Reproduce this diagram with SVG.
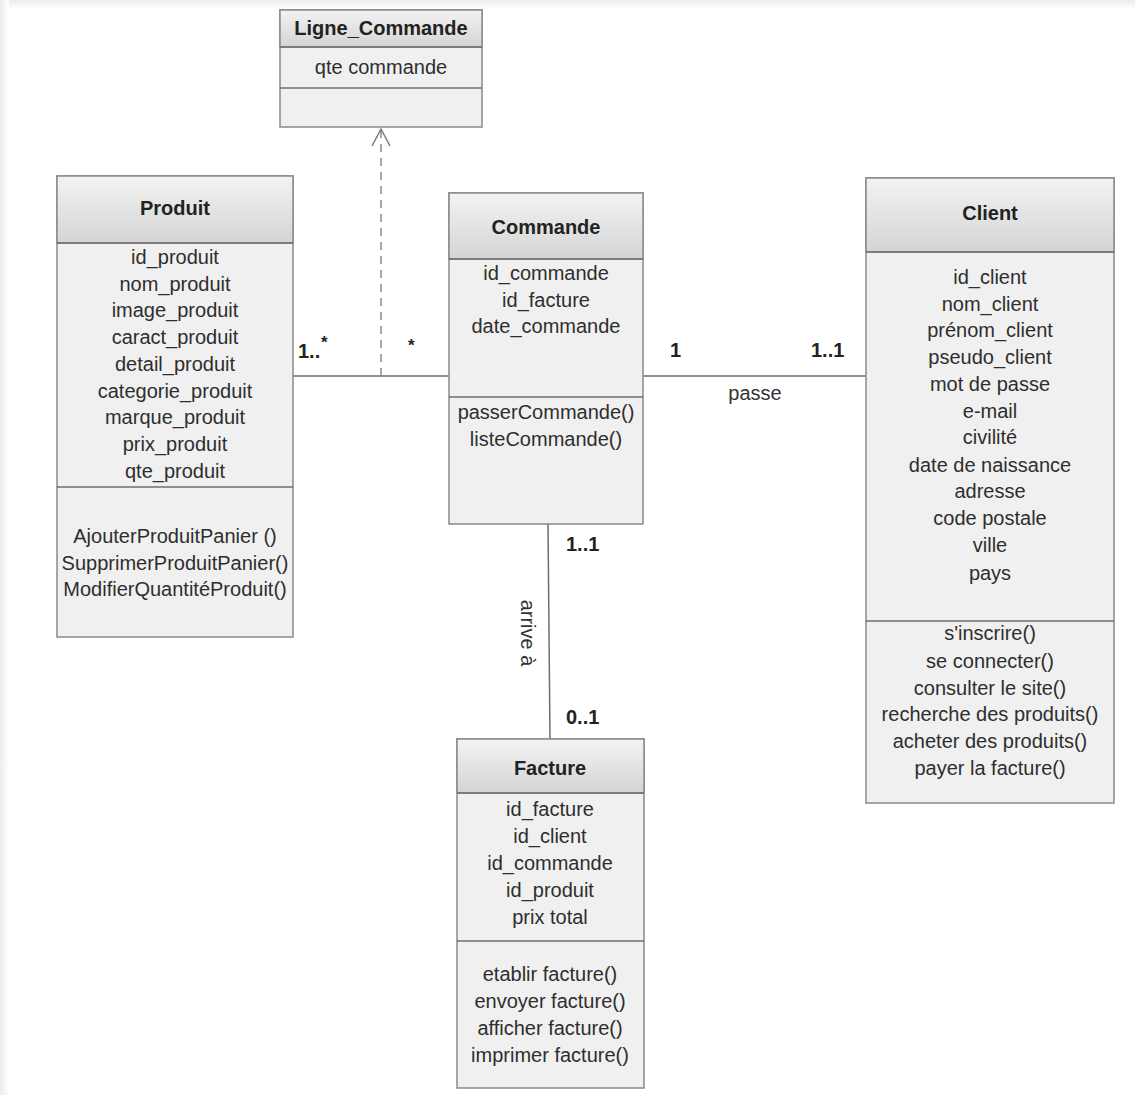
<svg xmlns="http://www.w3.org/2000/svg" width="1135" height="1095" viewBox="0 0 1135 1095">
  <style>
    .box { fill: #f0f0f0; stroke: #8a8a8a; stroke-width: 1.5; }
    .head { fill: url(#headGrad); stroke: #8a8a8a; stroke-width: 1.5; }
    .sep { stroke: #6f6f6f; stroke-width: 1.6; }
    .title { font-family: "Liberation Sans", Arial, sans-serif; font-size: 20px; font-weight: bold; fill: #222222; text-anchor: middle; }
    .item { font-family: "Liberation Sans", Arial, sans-serif; font-size: 20px; fill: #2e2e2e; text-anchor: middle; }
    .wire { stroke: #6e6e6e; stroke-width: 1.5; fill: none; }
    .dash { stroke: #8a8a8a; stroke-width: 1.5; fill: none; stroke-dasharray: 8 6; }
    .mult { font-family: "Liberation Sans", Arial, sans-serif; font-size: 20px; font-weight: bold; fill: #222222; }
    .star { font-family: "Liberation Sans", Arial, sans-serif; font-size: 17px; font-weight: bold; fill: #222222; }
    .role { font-family: "Liberation Sans", Arial, sans-serif; font-size: 20px; fill: #333333; text-anchor: middle; }
  </style>
  <defs>
    <linearGradient id="headGrad" x1="0" y1="0" x2="0" y2="1">
      <stop offset="0" stop-color="#f3f3f3"/>
      <stop offset="1" stop-color="#d4d4d4"/>
    </linearGradient>
    <linearGradient id="edgeTop" x1="0" y1="0" x2="0" y2="1">
      <stop offset="0" stop-color="#ececec"/>
      <stop offset="1" stop-color="#ffffff"/>
    </linearGradient>
    <linearGradient id="edgeLeft" x1="0" y1="0" x2="1" y2="0">
      <stop offset="0" stop-color="#ececec"/>
      <stop offset="1" stop-color="#ffffff"/>
    </linearGradient>
    <marker id="openArrow" viewBox="0 0 20 20" refX="18" refY="10" markerWidth="20" markerHeight="20" markerUnits="userSpaceOnUse" orient="auto">
      <path d="M 1 1 L 18 10 L 1 19" fill="none" stroke="#7a7a7a" stroke-width="1.5"/>
    </marker>
  </defs>

  <!-- page background with soft top/left margin -->
  <rect x="0" y="0" width="1135" height="1095" fill="#ffffff"/>
  <rect x="0" y="0" width="1135" height="9" fill="url(#edgeTop)"/>
  <rect x="0" y="0" width="9" height="1095" fill="url(#edgeLeft)"/>

  <!-- associations -->
  <g id="connectors">
    <line class="wire" x1="293" y1="376" x2="449" y2="376"/>
    <line class="dash" x1="381" y1="376" x2="381" y2="129" marker-end="url(#openArrow)"/>
    <line class="wire" x1="643" y1="376" x2="866" y2="376"/>
    <line class="wire" x1="548" y1="524" x2="550" y2="739"/>

    <text class="mult" x="298" y="358">1..</text>
    <text class="star" x="321" y="348">*</text>
    <text class="star" x="408" y="351">*</text>

    <text class="mult" x="670" y="357">1</text>
    <text class="mult" x="811" y="357">1..1</text>
    <text class="role" x="755" y="400">passe</text>

    <text class="mult" x="566" y="551">1..1</text>
    <text class="mult" x="566" y="724">0..1</text>
    <text class="role" transform="translate(521 633) rotate(90)" x="0" y="0">arrive à</text>
  </g>

  <!-- Ligne_Commande -->
  <g id="ligne-commande">
    <rect class="box" x="280" y="10" width="202" height="117"/>
    <rect class="head" x="280" y="10" width="202" height="37"/>
    <line class="sep" x1="280" y1="47" x2="482" y2="47"/>
    <line class="sep" x1="280" y1="88" x2="482" y2="88"/>
    <text class="title" x="381" y="35">Ligne_Commande</text>
    <text class="item" x="381" y="74">qte commande</text>
  </g>

  <!-- Produit -->
  <g id="produit">
    <rect class="box" x="57" y="176" width="236" height="461"/>
    <rect class="head" x="57" y="176" width="236" height="67"/>
    <line class="sep" x1="57" y1="243" x2="293" y2="243"/>
    <line class="sep" x1="57" y1="487" x2="293" y2="487"/>
    <text class="title" x="175" y="215">Produit</text>
    <text class="item" x="175" y="264">id_produit</text>
    <text class="item" x="175" y="291">nom_produit</text>
    <text class="item" x="175" y="317">image_produit</text>
    <text class="item" x="175" y="344">caract_produit</text>
    <text class="item" x="175" y="371">detail_produit</text>
    <text class="item" x="175" y="398">categorie_produit</text>
    <text class="item" x="175" y="424">marque_produit</text>
    <text class="item" x="175" y="451">prix_produit</text>
    <text class="item" x="175" y="478">qte_produit</text>
    <text class="item" x="175" y="543">AjouterProduitPanier ()</text>
    <text class="item" x="175" y="570">SupprimerProduitPanier()</text>
    <text class="item" x="175" y="596">ModifierQuantitéProduit()</text>
  </g>

  <!-- Commande -->
  <g id="commande">
    <rect class="box" x="449" y="193" width="194" height="331"/>
    <rect class="head" x="449" y="193" width="194" height="66"/>
    <line class="sep" x1="449" y1="259" x2="643" y2="259"/>
    <line class="sep" x1="449" y1="397" x2="643" y2="397"/>
    <text class="title" x="546" y="234">Commande</text>
    <text class="item" x="546" y="280">id_commande</text>
    <text class="item" x="546" y="307">id_facture</text>
    <text class="item" x="546" y="333">date_commande</text>
    <text class="item" x="546" y="419">passerCommande()</text>
    <text class="item" x="546" y="446">listeCommande()</text>
  </g>

  <!-- Client -->
  <g id="client">
    <rect class="box" x="866" y="178" width="248" height="625"/>
    <rect class="head" x="866" y="178" width="248" height="74"/>
    <line class="sep" x1="866" y1="252" x2="1114" y2="252"/>
    <line class="sep" x1="866" y1="621" x2="1114" y2="621"/>
    <text class="title" x="990" y="220">Client</text>
    <text class="item" x="990" y="284">id_client</text>
    <text class="item" x="990" y="311">nom_client</text>
    <text class="item" x="990" y="337">prénom_client</text>
    <text class="item" x="990" y="364">pseudo_client</text>
    <text class="item" x="990" y="391">mot de passe</text>
    <text class="item" x="990" y="418">e-mail</text>
    <text class="item" x="990" y="444">civilité</text>
    <text class="item" x="990" y="472">date de naissance</text>
    <text class="item" x="990" y="498">adresse</text>
    <text class="item" x="990" y="525">code postale</text>
    <text class="item" x="990" y="552">ville</text>
    <text class="item" x="990" y="580">pays</text>
    <text class="item" x="990" y="640">s'inscrire()</text>
    <text class="item" x="990" y="668">se connecter()</text>
    <text class="item" x="990" y="695">consulter le site()</text>
    <text class="item" x="990" y="721">recherche des produits()</text>
    <text class="item" x="990" y="748">acheter des produits()</text>
    <text class="item" x="990" y="775">payer la facture()</text>
  </g>

  <!-- Facture -->
  <g id="facture">
    <rect class="box" x="457" y="739" width="187" height="349"/>
    <rect class="head" x="457" y="739" width="187" height="54"/>
    <line class="sep" x1="457" y1="793" x2="644" y2="793"/>
    <line class="sep" x1="457" y1="941" x2="644" y2="941"/>
    <text class="title" x="550" y="775">Facture</text>
    <text class="item" x="550" y="816">id_facture</text>
    <text class="item" x="550" y="843">id_client</text>
    <text class="item" x="550" y="870">id_commande</text>
    <text class="item" x="550" y="897">id_produit</text>
    <text class="item" x="550" y="924">prix total</text>
    <text class="item" x="550" y="981">etablir facture()</text>
    <text class="item" x="550" y="1008">envoyer facture()</text>
    <text class="item" x="550" y="1035">afficher facture()</text>
    <text class="item" x="550" y="1062">imprimer facture()</text>
  </g>
</svg>
